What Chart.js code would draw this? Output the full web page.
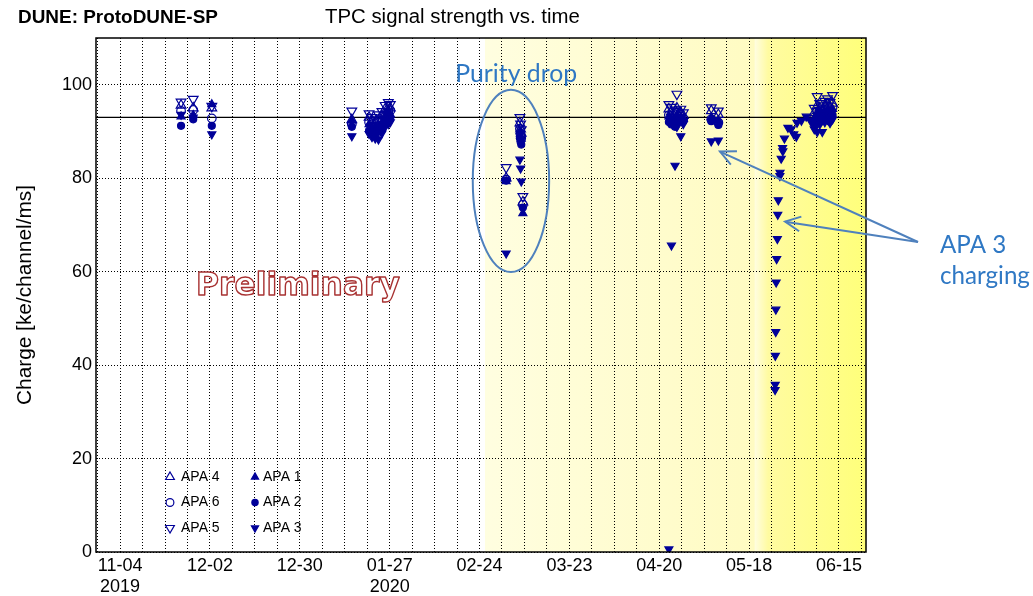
<!DOCTYPE html>
<html><head><meta charset="utf-8">
<script src="https://cdn.jsdelivr.net/npm/chart.js@4.4.1/dist/chart.umd.min.js"></script>
<style>html,body{margin:0;padding:0;background:#fff;}#wrap{width:1033px;height:596px;position:relative;}</style>
</head><body><div id="wrap"><canvas id="c" width="1033" height="596"></canvas></div>
<script>
// ---------------- data ----------------
const originDate = '2019-11-04T00:00';
const axisStart = '2019-10-27T12:00';
const axisEnd = '2020-06-23T10:00';
const tickLabels = [['11-04','2019'],'12-02','12-30',['01-27','2020'],'02-24','03-23','04-20','05-18','06-15'];
const yTicks = [0,20,40,60,80,100];
const referenceCharge = 93;

const runTimes = [
 '2019-11-23T00:00','2019-11-26T19:00','2019-12-02T14:00','2020-01-15T05:00',
 '2020-01-20T14:00','2020-01-21T12:00','2020-01-22T12:00','2020-01-23T12:00',
 '2020-01-24T14:00','2020-01-25T14:00','2020-01-26T14:00','2020-01-27T05:00',
 '2020-03-03T07:00','2020-03-07T14:00','2020-03-07T19:00','2020-03-08T00:00','2020-03-08T12:00',
 '2020-04-23T00:00','2020-04-23T19:00','2020-04-24T22:00','2020-04-25T12:00','2020-04-26T17:00','2020-04-27T12:00',
 '2020-05-06T05:00','2020-05-08T10:00',
 '2020-06-07T07:00','2020-06-08T05:00','2020-06-09T00:00','2020-06-09T19:00',
 '2020-06-10T14:00','2020-06-11T10:00','2020-06-12T05:00','2020-06-13T00:00'];
const apa4 = [95.6,95.0,95.0,92.5, 93.0,92.3,91.8,92.5,93.4,94.8,95.2,95.0, 80.0,91.8,90.5,89.6,74.9, 94.8,94.2,93.8,95.0,94.0,93.4, 94.4,93.6, 94.0,95.5,95.0,94.5,95.3,95.8,95.2,96.0];
const apa6 = [94.4,94.6,92.8,91.6, 92.0,91.0,90.6,91.2,92.2,93.5,94.2,94.5, 79.7,90.6,89.4,88.6,74.3, 93.5,93.0,92.6,94.0,93.2,92.8, 92.6,91.9, 93.0,94.3,93.8,93.5,94.6,94.8,94.0,95.2];
const apa5 = [96.3,96.9,95.4,94.4, 93.8,93.0,92.5,93.6,94.3,95.6,96.2,95.8, 82.3,93.0,91.6,90.4,76.1, 95.8,95.2,94.6,98.0,94.8,94.0, 95.1,94.4, 95.0,97.5,96.0,95.5,96.5,97.0,96.2,97.7];
const apa1 = [93.2,93.5,95.8,92.3, 91.5,90.8,90.5,91.0,92.0,93.2,94.0,93.6, 79.3,90.0,89.0,88.4,72.5, 93.2,92.6,92.2,93.5,93.0,92.8, 93.0,92.4, 92.8,94.0,93.5,93.0,94.2,94.5,93.8,94.8];
const apa2 = [91.2,92.6,91.2,91.0, 90.2,89.6,89.2,90.0,90.8,92.0,92.8,93.0, 79.5,88.6,87.8,87.2,73.7, 92.0,91.5,91.0,92.4,92.3,92.2, 92.2,91.4, 91.5,92.5,92.0,92.2,93.0,93.5,92.8,93.5];
const apa3 = [93.6,93.0,89.4,89.0, 89.5,88.8,88.5,88.3,89.6,91.0,91.6,92.0, 63.9,84.0,82.1,79.3,null, 0.6,65.6,82.7,91.0,89.0,91.6, 87.9,88.1, 90.5,89.9,91.5,89.9,92.0,92.5,91.8,92.6];

// APA 3 charging episode (only APA 3 measured)
const chargingTimes = [
 '2020-05-26T02:00','2020-05-26T03:00','2020-05-26T04:00','2020-05-26T07:00','2020-05-26T08:00','2020-05-26T10:00',
 '2020-05-26T14:00','2020-05-26T19:00','2020-05-26T22:00','2020-05-27T02:00','2020-05-27T14:00','2020-05-27T15:00',
 '2020-05-28T00:00','2020-05-28T10:00','2020-05-28T12:00','2020-05-29T00:00','2020-05-30T02:00','2020-05-31T02:00',
 '2020-05-31T22:00','2020-06-01T17:00','2020-06-01T22:00','2020-06-03T07:00','2020-06-04T19:00','2020-06-06T02:00'];
const chargingApa3 = [34.7,35.8,42.0,47.1,51.9,57.7, 62.7,67.0,72.2,75.3,80.5,81.2, 84.2,86.5,85.8,88.5,90.8,90.5, 89.4,88.9,91.9,92.3,93.2,92.3];

// shaded periods
const shadeLight = ['2020-02-25T17:00','2020-05-19T19:00'];
const shadeStrong = ['2020-05-19T19:00', axisEnd];

// ---------------- helpers ----------------
const dayOf = t => (Date.parse(t + ':00Z') - Date.parse(originDate + ':00Z')) / 864e5;
const pts = (times, vals) => times.map((t,i)=>({x:dayOf(t), y:vals[i]})).filter(p=>p.y!==null);
const NAVY = '#000099';
const BLUE = '#2f78c4';
const LINEBLUE = '#4f81bd';
Chart.defaults.font.family = '"Liberation Sans", Arial, sans-serif';
Chart.defaults.color = '#000';

function fitFont(ctx, text, width, weight, family){
  ctx.font = weight + ' 100px ' + family;
  const w = ctx.measureText(text).width;
  const size = 100 * width / w;
  ctx.font = weight + ' ' + size.toFixed(2) + 'px ' + family;
  return size;
}

const series = [
  {label:'APA 4', data:pts(runTimes, apa4), pointStyle:'triangle', rotation:0, radius:5.6, filled:false},
  {label:'APA 6', data:pts(runTimes, apa6), pointStyle:'circle', rotation:0, radius:4.3, filled:false},
  {label:'APA 5', data:pts(runTimes, apa5), pointStyle:'triangle', rotation:180, radius:5.6, filled:false},
  {label:'APA 1', data:pts(runTimes, apa1), pointStyle:'triangle', rotation:0, radius:4.6, filled:true},
  {label:'APA 2', data:pts(runTimes, apa2), pointStyle:'circle', rotation:0, radius:3.5, filled:true},
  {label:'APA 3', data:pts(runTimes, apa3).concat(pts(chargingTimes, chargingApa3)), pointStyle:'triangle', rotation:180, radius:4.6, filled:true}
];

const decorPlugin = {
  id:'decor',
  beforeDraw(chart){
    const {ctx, chartArea:a, scales:{x}} = chart;
    ctx.save();
    const b1 = x.getPixelForValue(dayOf(shadeLight[0])), b2 = x.getPixelForValue(dayOf(shadeLight[1]));
    let g = ctx.createLinearGradient(b1,0,b2,0);
    g.addColorStop(0,'#fffee0'); g.addColorStop(1,'#fffbc2');
    ctx.fillStyle = g; ctx.fillRect(b1, a.top, b2-b1, a.bottom-a.top);
    const c1 = x.getPixelForValue(dayOf(shadeStrong[0])), c2 = Math.min(a.right, x.getPixelForValue(dayOf(shadeStrong[1])));
    g = ctx.createLinearGradient(c1,0,c2,0);
    g.addColorStop(0,'#fffde0'); g.addColorStop(0.12,'#fffba0'); g.addColorStop(1,'#ffff7a');
    ctx.fillStyle = g; ctx.fillRect(c1, a.top, c2-c1, a.bottom-a.top);
    ctx.restore();
  },
  beforeDatasetsDraw(chart){
    const {ctx, chartArea:a, scales:{y}} = chart;
    ctx.save();
    // reference line
    const yr = y.getPixelForValue(referenceCharge);
    ctx.strokeStyle = '#000'; ctx.lineWidth = 1.3;
    ctx.beginPath(); ctx.moveTo(a.left, yr); ctx.lineTo(a.right, yr); ctx.stroke();
    // Preliminary
    fitFont(ctx, 'Preliminary', 204, 'bold', '"DejaVu Sans"');
    ctx.textBaseline = 'alphabetic'; ctx.textAlign = 'left';
    ctx.lineJoin = 'round';
    ctx.fillStyle = '#fff'; ctx.fillText('Preliminary', a.left + 100, a.top + 257);
    ctx.strokeStyle = '#a83232'; ctx.lineWidth = 1.4;
    ctx.strokeText('Preliminary', a.left + 100, a.top + 257);
    ctx.restore();
  },
  afterDraw(chart){
    const {ctx, chartArea:a, scales:{x,y}} = chart;
    ctx.save();
    // frame
    ctx.strokeStyle = '#000'; ctx.lineWidth = 1.5;
    ctx.strokeRect(a.left, a.top, a.right-a.left, a.bottom-a.top);
    // titles
    ctx.fillStyle = '#000'; ctx.textBaseline = 'alphabetic'; ctx.textAlign = 'left';
    fitFont(ctx, 'DUNE: ProtoDUNE-SP', 200, 'bold', '"Liberation Sans"');
    ctx.fillText('DUNE: ProtoDUNE-SP', 18, 23);
    fitFont(ctx, 'TPC signal strength vs. time', 255, 'normal', '"Liberation Sans"');
    ctx.fillText('TPC signal strength vs. time', 325, 23);
    // y title
    ctx.save();
    ctx.translate(31, 295); ctx.rotate(-Math.PI/2);
    fitFont(ctx, 'Charge [ke/channel/ms]', 220, 'normal', '"Liberation Sans"');
    ctx.textAlign = 'center'; ctx.fillText('Charge [ke/channel/ms]', 0, 0);
    ctx.restore();
    // legend
    const rows = [[0,3],[1,4],[2,5]];
    ctx.font = '14px "Liberation Sans"'; ctx.textBaseline = 'middle';
    rows.forEach((r,i)=>{
      const yy = a.top + 439 + i*25.5;
      r.forEach((si,j)=>{
        const s = series[si];
        const xm = a.left + 74 + j*85;
        ctx.strokeStyle = NAVY; ctx.fillStyle = s.filled ? NAVY : 'rgba(0,0,0,0)';
        ctx.lineWidth = 1.2;
        Chart.helpers.drawPoint(ctx, {pointStyle:s.pointStyle, rotation:s.rotation, radius:s.radius*0.9, borderWidth:1.2}, xm, yy);
        ctx.fillStyle = '#000';
        ctx.fillText(s.label, xm + (j===0?11:8), yy);
      });
    });
    // annotations
    ctx.strokeStyle = LINEBLUE; ctx.lineWidth = 2;
    const ec = [x.getPixelForValue(dayOf('2020-03-04T19:00')), y.getPixelForValue(79.4)];
    const rx = x.getPixelForValue(dayOf('2020-03-04T19:00') + 11.9) - ec[0];
    const ry = y.getPixelForValue(79.4 - 19.5) - ec[1];
    ctx.beginPath(); ctx.ellipse(ec[0], ec[1], rx, ry, 0, 0, Math.PI*2); ctx.stroke();
    const tail = [a.right + 52, a.top + 204];
    const tips = [[dayOf('2020-05-08T22:00'), 85.7],[dayOf('2020-05-29T05:00'), 70.7]];
    tips.forEach(([d,v])=>{
      const tx = x.getPixelForValue(d), ty = y.getPixelForValue(v);
      ctx.beginPath(); ctx.moveTo(tail[0], tail[1]); ctx.lineTo(tx, ty); ctx.stroke();
      const ang = Math.atan2(tail[1]-ty, tail[0]-tx);
      ctx.beginPath();
      ctx.moveTo(tx + 17*Math.cos(ang+0.45), ty + 17*Math.sin(ang+0.45));
      ctx.lineTo(tx, ty);
      ctx.lineTo(tx + 17*Math.cos(ang-0.45), ty + 17*Math.sin(ang-0.45));
      ctx.stroke();
    });
    ctx.fillStyle = BLUE; ctx.textBaseline = 'alphabetic'; ctx.textAlign = 'left';
    fitFont(ctx, 'Purity drop', 122, 'normal', 'Lato');
    ctx.fillText('Purity drop', x.getPixelForValue(dayOf('2020-02-16T10:00')), a.top + 44);
    fitFont(ctx, 'charging', 90, 'normal', 'Lato');
    ctx.fillText('APA 3', a.right + 74, a.top + 215);
    ctx.fillText('charging', a.right + 74, a.top + 246);
    ctx.restore();
  }
};

new Chart(document.getElementById('c'), {
  type:'scatter',
  data:{datasets: series.map(s=>({
    label:s.label, data:s.data, showLine:false,
    pointStyle:s.pointStyle, rotation:s.rotation, pointRadius:s.radius, pointHoverRadius:s.radius,
    borderColor:NAVY, backgroundColor: s.filled ? NAVY : 'rgba(0,0,0,0)', borderWidth:1.2
  }))},
  options:{
    responsive:false, animation:false, devicePixelRatio:1,
    layout:{padding:{left:0, right:167, top:38, bottom:0}},
    plugins:{legend:{display:false}, tooltip:{enabled:false}, title:{display:false}},
    scales:{
      x:{type:'linear', min:dayOf(axisStart), max:dayOf(axisEnd),
        afterBuildTicks:(s)=>{ const t=[]; for(let d=-7; d<=dayOf(axisEnd); d+=7) t.push({value:d}); s.ticks=t; },
        afterFit:(s)=>{ s.height = 44; },
        grid:{color:'#000', lineWidth:1, drawTicks:false},
        border:{display:false, dash:[1,2]},
        ticks:{autoSkip:false, maxRotation:0, minRotation:0, padding:3, font:{size:18},
          callback:(v)=> (v>=0 && v%28===0 && tickLabels[v/28]!==undefined) ? tickLabels[v/28] : ''}
      },
      y:{type:'linear', min:0, max:110,
        afterBuildTicks:(s)=>{ s.ticks = yTicks.map(v=>({value:v})); },
        afterFit:(s)=>{ s.width = 96; },
        grid:{color:'#000', lineWidth:1, drawTicks:false},
        border:{display:false, dash:[1,2]},
        ticks:{padding:4, font:{size:18}}
      }
    }
  },
  plugins:[decorPlugin]
});
</script></body></html>
